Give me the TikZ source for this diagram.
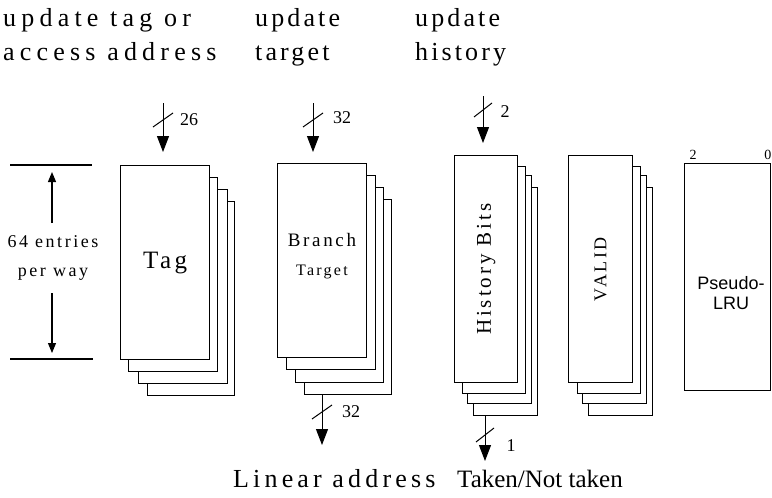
\documentclass[tikz,border=0pt]{standalone}
\usepackage{fontspec}
\setmainfont{Liberation Serif}
\newfontfamily\capwide[LetterSpace=20]{Liberation Serif}
\newfontfamily\capmid[LetterSpace=16]{Liberation Serif}
\newfontfamily\capnarrow[LetterSpace=12]{Liberation Serif}
\newfontfamily\spaced[LetterSpace=14]{Liberation Serif}
\newfontfamily\sansfam{Liberation Sans}
\usetikzlibrary{arrows.meta}

\begin{document}
\begin{tikzpicture}[x=1pt,y=-1pt,
  card/.style={draw, fill=white, line width=1.25pt, inner sep=0pt, anchor=north west},
  caption/.style={anchor=base west, inner sep=0pt},
  small/.style={font=\fontsize{18}{18}\selectfont, inner sep=0pt},
  busarrow/.style={line width=1pt, -{Triangle[length=16pt,width=12pt]}},
  busslash/.style={line width=1pt},
  dimarrow/.style={line width=1.1pt, -{Triangle[length=10pt,width=8pt]}},
  dimline/.style={line width=1.1pt}
]
\useasboundingbox (0,0) rectangle (772,498);

% captions above and below
\node[caption, font=\capwide\fontsize{26}{26}\selectfont] (capA1) at (3,26) {update tag or};
\node[caption, font=\capwide\fontsize{26}{26}\selectfont] (capA2) at (3,60) {access address};
\node[caption, font=\capnarrow\fontsize{26}{26}\selectfont] (capB1) at (255,26) {update};
\node[caption, font=\capnarrow\fontsize{26}{26}\selectfont] (capB2) at (255,60) {target};
\node[caption, font=\capnarrow\fontsize{26}{26}\selectfont] (capC1) at (415,26) {update};
\node[caption, font=\capnarrow\fontsize{26}{26}\selectfont] (capC2) at (415,60) {history};
\node[caption, font=\capmid\fontsize{26}{26}\selectfont] (capD) at (233,487) {Linear address};
\node[caption, font=\fontsize{25}{25}\selectfont] (capE) at (457,487) {Taken/Not taken};

% 64 entries dimension
\coordinate (dimtopL) at (10,165);
\coordinate (dimtopR) at (92,165);
\coordinate (dimbotL) at (10,359);
\coordinate (dimbotR) at (93,359);
\draw[dimline] (dimtopL) -- (dimtopR);
\draw[dimline] (dimbotL) -- (dimbotR);
\node[font=\spaced\fontsize{18}{18}\selectfont, inner sep=0pt, align=center] (entries) at (53,258) {64 entries\\[11pt]per way};
\coordinate (uptip) at (52,172);
\coordinate (downtip) at (52,353);
\draw[dimarrow] (uptip |- 0,223) -- (uptip);
\draw[dimarrow] (downtip |- 0,293) -- (downtip);

% Tag array (four ways)
\node[card, minimum width=87pt, minimum height=194pt] (tag3) at (147,201) {};
\node[card, minimum width=89pt, minimum height=194pt] (tag2) at (138,189) {};
\node[card, minimum width=89pt, minimum height=194pt] (tag1) at (128,177) {};
\node[card, minimum width=89pt, minimum height=194pt, font=\spaced\fontsize{25}{25}\selectfont] (tag) at (120,165) {Tag};

% Branch target array
\node[card, minimum width=87pt, minimum height=195pt] (bt3) at (304,199) {};
\node[card, minimum width=88pt, minimum height=195pt] (bt2) at (295,187) {};
\node[card, minimum width=89pt, minimum height=194pt] (bt1) at (286,175) {};
\node[card, minimum width=89pt, minimum height=194pt] (bt) at (277,163) {};
\node[font=\spaced\fontsize{19}{19}\selectfont, inner sep=0pt] (btA) at (322,240) {Branch};
\node[font=\spaced\fontsize{16}{16}\selectfont, inner sep=0pt] (btB) at (322,272) {Target};

% History bits array
\node[card, minimum width=64pt, minimum height=228pt] (hb3) at (473,187) {};
\node[card, minimum width=64pt, minimum height=228pt] (hb2) at (467,175) {};
\node[card, minimum width=63pt, minimum height=227pt] (hb1) at (462,166) {};
\node[card, minimum width=63pt, minimum height=227pt] (hb) at (454,155) {};
\node[rotate=90, font=\spaced\fontsize{21}{21}\selectfont, inner sep=0pt] (hbtext) at (hb.center) {History Bits};

% Valid bits array
\node[card, minimum width=64pt, minimum height=228pt] (vb3) at (588,187) {};
\node[card, minimum width=64pt, minimum height=228pt] (vb2) at (582,175) {};
\node[card, minimum width=63pt, minimum height=227pt] (vb1) at (577,166) {};
\node[card, minimum width=64pt, minimum height=227pt] (vb) at (568,155) {};
\node[rotate=90, font=\spaced\fontsize{18}{18}\selectfont, inner sep=0pt] (vbtext) at (vb.center) {VALID};

% Pseudo-LRU bits
\node[card, minimum width=86pt, minimum height=227pt] (lru) at (684,163) {};
\node[font=\sansfam\fontsize{18}{18}\selectfont, align=center, inner sep=0pt] (lrutext) at (731,293) {Pseudo-\\[2pt]LRU};
\node[font=\fontsize{14}{14}\selectfont, inner sep=0pt] (lruhi) at (693,155) {2};
\node[font=\fontsize{14}{14}\selectfont, inner sep=0pt, anchor=east] (lrulo) at (771.5,155) {0};

% input buses
\coordinate (tagin) at (163,103);
\coordinate (tagslash) at (163,120);
\draw[busarrow, shorten >=13pt] (tagin) -- (tagin |- tag.north);
\draw[busslash] ([shift={(-10,7)}]tagslash) -- ([shift={(10,-7)}]tagslash);
\node[small] (tagw) at (189,120) {26};

\coordinate (tgtin) at (313,103);
\coordinate (tgtslash) at (313,120);
\draw[busarrow, shorten >=11pt] (tgtin) -- (tgtin |- bt.north);
\draw[busslash] ([shift={(-10,7)}]tgtslash) -- ([shift={(10,-7)}]tgtslash);
\node[small] (tgtw) at (342,118) {32};

\coordinate (hisin) at (483,96);
\coordinate (hisslash) at (483,110);
\draw[busarrow, shorten >=12pt] (hisin) -- (hisin |- hb.north);
\draw[busslash] ([shift={(-9,7)}]hisslash) -- ([shift={(9,-7)}]hisslash);
\node[small] (hisw) at (505,112) {2};

% output buses
\coordinate (tgtout) at (322,445);
\coordinate (tgtoslash) at (322,412);
\draw[busarrow] (tgtout |- bt3.south) -- (tgtout);
\draw[busslash] ([shift={(-10,7)}]tgtoslash) -- ([shift={(10,-7)}]tgtoslash);
\node[small] (tgtow) at (351,412) {32};

\coordinate (hisout) at (485,461);
\coordinate (hisoslash) at (485,435);
\draw[busarrow] (hisout |- hb3.south) -- (hisout);
\draw[busslash] ([shift={(-9,7)}]hisoslash) -- ([shift={(9,-7)}]hisoslash);
\node[small] (hisow) at (511,446) {1};
\end{tikzpicture}
\end{document}
